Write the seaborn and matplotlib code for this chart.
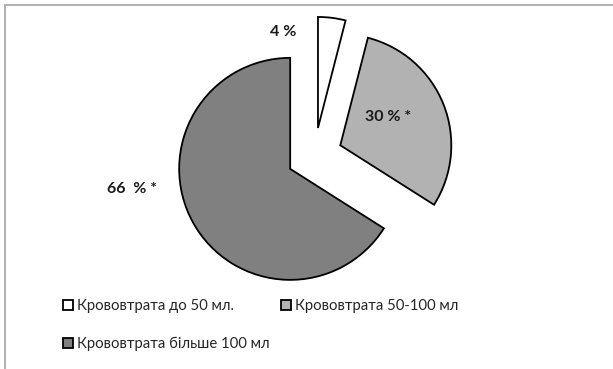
import matplotlib
matplotlib.use("Agg")
import matplotlib.pyplot as plt
from matplotlib.patches import Rectangle, Patch
import seaborn as sns

# Blood-loss groups and their shares, %
categories = ["Крововтрата до 50 мл.", "Крововтрата 50-100 мл", "Крововтрата більше 100 мл"]
shares = [4, 30, 66]
value_labels = ["4 %", "30 % *", "66  % *"]
colors = ["#ffffff", "#b2b2b2", "#808080"]

sns.set_theme(style="white")
plt.rcParams["font.family"] = ["Lato", "DejaVu Sans"]

W, H = 613, 369
fig = plt.figure(figsize=(W / 100, H / 100), dpi=100)
ax = fig.add_axes([0, 0, 1, 1])

# pie in pixel units (y up); explode is an absolute offset here
cx, cy, r = 314.5, 213.5, 111
wedges, _ = ax.pie(
    shares,
    colors=colors,
    explode=[0.25 * r] * len(shares),
    startangle=90,
    counterclock=False,
    center=(cx, cy),
    radius=r,
    wedgeprops=dict(edgecolor="black", linewidth=1.3),
)

# value labels placed relative to the pie centre (radius units)
label_offsets = [(-0.28, 1.11), (0.66, 0.35), (-1.64, -0.30)]
for txt, (dx, dy) in zip(value_labels, label_offsets):
    ax.text(cx + dx * r, cy + dy * r, txt, ha="center", va="center",
            fontsize=11.5, fontweight="bold", color="#1a1a1a")

ax.set_xlim(0, W)
ax.set_ylim(0, H)
ax.set_aspect("equal")
ax.axis("off")

# chart-area border
ax.add_patch(Rectangle((5, -20), W + 20, H - 5 + 20, fill=False,
                       edgecolor="#b0b0b0", linewidth=1.4, clip_on=False))

# legend: first and third entries share column one
handles = [Patch(facecolor=c, edgecolor="black", linewidth=1.3) for c in colors]
order = [0, 2, 1]
fig.legend([handles[i] for i in order], [categories[i] for i in order],
           loc="upper left", bbox_to_anchor=(63 / W, 1 - 299 / H),
           ncol=2, frameon=False, fontsize=10.7,
           handlelength=0.7, handleheight=0.7, handletextpad=0.25,
           columnspacing=0.75, labelspacing=1.6, borderpad=0, borderaxespad=0)

fig.savefig("out.png", dpi=100)
